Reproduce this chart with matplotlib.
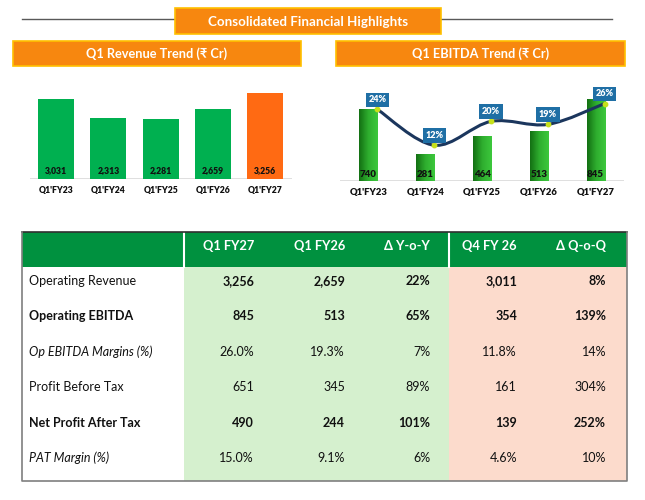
import numpy as np
import matplotlib.pyplot as plt
from matplotlib.patches import Rectangle, PathPatch
from matplotlib.path import Path
from matplotlib.colors import LinearSegmentedColormap

plt.rcParams['font.family'] = ['Lato', 'DejaVu Sans']

W, H = 645, 500

# chart data
quarters = ["Q1'FY23", "Q1'FY24", "Q1'FY25", "Q1'FY26", "Q1'FY27"]
revenue = [3031, 2313, 2281, 2659, 3256]
ebitda = [740, 281, 464, 513, 845]
ebitda_margin = [24, 12, 20, 19, 26]

# table data
table_cols = ['Q1 FY27', 'Q1 FY26', 'Δ Y-o-Y', 'Q4 FY 26', 'Δ Q-o-Q']
row_labels = ['Operating Revenue', 'Operating EBITDA', 'Op EBITDA Margins (%)',
              'Profit Before Tax', 'Net Profit After Tax', 'PAT Margin (%)']
q1_fy27 = ['3,256', '845', '26.0%', '651', '490', '15.0%']
q1_fy26 = ['2,659', '513', '19.3%', '345', '244', '9.1%']
delta_yoy = ['22%', '65%', '7%', '89%', '101%', '6%']
q4_fy26 = ['3,011', '354', '11.8%', '161', '139', '4.6%']
delta_qoq = ['8%', '139%', '14%', '304%', '252%', '10%']

# row styles: (label weight, label style, value weight)
row_styles = [('normal', 'normal', 'bold'),
              ('bold', 'normal', 'bold'),
              ('normal', 'italic', 'normal'),
              ('normal', 'normal', 'normal'),
              ('bold', 'normal', 'bold'),
              ('normal', 'italic', 'normal')]

ORANGE = '#F7870F'
GREEN = '#00B050'
INK = '#111111'

fig = plt.figure(figsize=(W / 100, H / 100), dpi=100)


def px_axes(x0, y0, x1, y1):
    # axes placed in pixel coords (top-left origin)
    return fig.add_axes([x0 / W, 1 - y1 / H, (x1 - x0) / W, (y1 - y0) / H])


# background layer for boxes, lines and the table
bg = fig.add_axes([0, 0, 1, 1], zorder=0)
bg.set_xlim(0, W)
bg.set_ylim(H, 0)
bg.axis('off')

# top title
bg.plot([22, 612], [19, 19], color='#595959', lw=1)
bg.add_patch(Rectangle((175, 8), 266, 26, fc=ORANGE, ec='#FFC000', lw=1.2, zorder=3))
bg.text(308, 21.5, 'Consolidated Financial Highlights', color='white', fontsize=9.6,
        fontweight='bold', ha='center', va='center', zorder=4)

# section headers
for x0, x1, label in [(13, 301, 'Q1 Revenue Trend (₹ Cr)'), (336, 625, 'Q1 EBITDA Trend (₹ Cr)')]:
    bg.add_patch(Rectangle((x0, 41), x1 - x0, 25, fc=ORANGE, ec='#FFC000', lw=1.2, zorder=3))
    bg.text((x0 + x1) / 2, 54, label, color='white', fontsize=9.2, fontweight='bold',
            ha='center', va='center', zorder=4)

# ---- revenue chart ----
ax1 = px_axes(30, 75, 291.5, 179)
ax1.patch.set_alpha(0)
x = np.arange(len(quarters))
colors = [GREEN] * (len(revenue) - 1) + ['#FF6A13']
ax1.bar(x, revenue, width=0.69, color=colors, zorder=2)
ax1.axhline(0, color='#D9D9D9', lw=1.2, zorder=1)
for i, v in enumerate(revenue):
    ax1.annotate(f'{v:,}', (i, 0), xytext=(0, 2.5), textcoords='offset points',
                 ha='center', va='bottom', fontsize=6.2, fontweight='heavy', color=INK, zorder=3)
ax1.set_xlim(-0.5, len(quarters) - 0.5)
ax1.set_ylim(0, 104 / 0.0264)
ax1.set_xticks(x)
ax1.set_xticklabels(quarters, fontsize=6.2, fontweight='heavy', color=INK)
ax1.tick_params(axis='x', length=0, pad=5)
ax1.set_yticks([])
for s in ax1.spines.values():
    s.set_visible(False)

# ---- EBITDA chart ----
ax2 = px_axes(340, 75, 624, 181)
ax2.patch.set_alpha(0)
bars = ax2.bar(x, ebitda, width=0.32, color='#22A022', zorder=2)
grad_cmap = LinearSegmentedColormap.from_list('g', ['#137013', '#2FAE2F', '#3CC83C'])
grad = np.linspace(0, 1, 64).reshape(1, -1)
for rect in bars:
    bx, bw, bh = rect.get_x(), rect.get_width(), rect.get_height()
    im = ax2.imshow(grad, extent=[bx, bx + bw, 0, bh], aspect='auto', cmap=grad_cmap, zorder=2)
    im.set_clip_path(rect)
ax2.set_xlim(-0.5, len(quarters) - 0.5)
ax2.set_ylim(0, 106 / 0.0973)
ax2.axhline(0, color='#D9D9D9', lw=1.2, zorder=1)
for i, v in enumerate(ebitda):
    ax2.annotate(f'{v}', (i, 0), xytext=(0, 1.5), textcoords='offset points',
                 ha='center', va='bottom', fontsize=7, fontweight='heavy', color=INK, zorder=3)
ax2.set_xticks(x)
ax2.set_xticklabels(quarters, fontsize=6.8, fontweight='heavy', color=INK)
ax2.tick_params(axis='x', length=0, pad=5)
ax2.set_yticks([])
for s in ax2.spines.values():
    s.set_visible(False)

# margin line on secondary axis, smoothed through the points
ax2b = ax2.twinx()
ax2b.set_ylim(0, 106 / 2.98)
ax2b.set_yticks([])
for s in ax2b.spines.values():
    s.set_visible(False)
lx = x + 0.16
ly = np.array(ebitda_margin, dtype=float)
pts = np.column_stack([lx, ly])
verts = [pts[0]]
codes = [Path.MOVETO]
for k in range(len(pts) - 1):
    p0 = pts[max(k - 1, 0)]
    p1 = pts[k]
    p2 = pts[k + 1]
    p3 = pts[min(k + 2, len(pts) - 1)]
    verts += [p1 + (p2 - p0) / 6, p2 - (p3 - p1) / 6, p2]
    codes += [Path.CURVE4] * 3
ax2b.add_patch(PathPatch(Path(verts, codes), fc='none', ec='#1B365D', lw=2.2, zorder=4))
ax2b.plot(lx, ly, 'o', ms=3.2, mfc='#C6E01B', mec='#C6E01B', zorder=5)
for xi, m in zip(lx, ebitda_margin):
    ax2b.annotate(f'{m}%', (xi, m), xytext=(0, 7), textcoords='offset points',
                  ha='center', va='center', fontsize=6.6, fontweight='heavy', color='white',
                  bbox=dict(boxstyle='square,pad=0.3', fc='#1F6FA5', ec='none'), zorder=6)

# ---- table ----
tx0, tx1 = 22, 627
ty0, hy1, ty1 = 232, 267, 481
c_split1, c_split2 = 184, 449
bg.add_patch(Rectangle((tx0, ty0), tx1 - tx0, hy1 - ty0, fc='#00913F', ec='none', zorder=1))
bg.add_patch(Rectangle((c_split1, hy1), c_split2 - c_split1, ty1 - hy1, fc='#D5F0CE', ec='none', zorder=1))
bg.add_patch(Rectangle((c_split2, hy1), tx1 - c_split2, ty1 - hy1, fc='#FCDBCC', ec='none', zorder=1))
for cx in (c_split1 - 0.5, c_split2):
    bg.plot([cx, cx], [ty0, hy1], color='white', lw=1.5, zorder=2)
bg.plot([tx0, tx1], [ty0, ty0], color='#2f2f2f', lw=1.2, zorder=3)
bg.plot([tx0, tx0, tx1, tx1], [ty0, ty1, ty1, ty0], color='#7f7f7f', lw=1.2, zorder=3)

col_right = [254, 345, 430, 517, 606]
for cx, name in zip(col_right, table_cols):
    bg.text(cx, 246, name, color='white', fontsize=9.3, fontweight='bold',
            ha='right', va='center', zorder=4)

columns = [q1_fy27, q1_fy26, delta_yoy, q4_fy26, delta_qoq]
for r, label in enumerate(row_labels):
    ry = 281 + 35.4 * r
    lw_, ls_, vw_ = row_styles[r]
    bg.text(29, ry, label, fontsize=9, fontweight=lw_, fontstyle=ls_,
            color=INK, ha='left', va='center', zorder=4)
    for cx, col in zip(col_right, columns):
        bg.text(cx, ry, col[r], fontsize=9, fontweight=vw_, color=INK,
                ha='right', va='center', zorder=4)

fig.savefig('out.png', dpi=100)
